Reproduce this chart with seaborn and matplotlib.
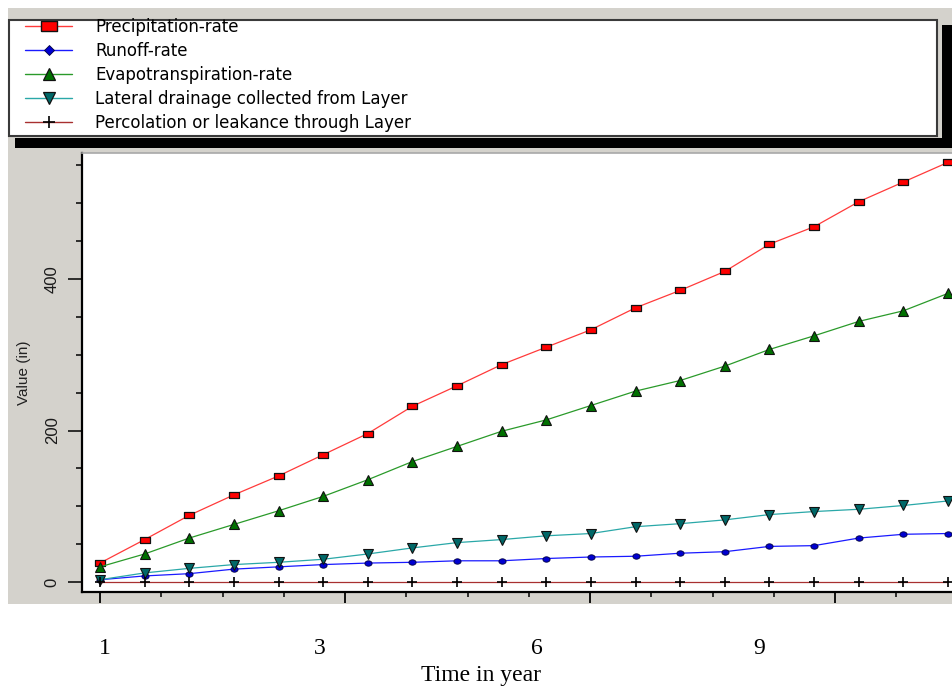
import numpy as np
import pandas as pd
import matplotlib
matplotlib.use("Agg")
import matplotlib.pyplot as plt
import seaborn as sns
from matplotlib.patches import Rectangle
from matplotlib.lines import Line2D

# ---------------- data ----------------
period = list(range(1, 21))
precipitation = [25, 56, 88, 115, 140, 168, 196, 232, 259, 287,
                 310, 333, 362, 385, 410, 446, 469, 502, 528, 554]
runoff = [3, 8, 11, 17, 20, 23, 25, 26, 28, 28,
          31, 33, 34, 38, 40, 47, 48, 58, 63, 64]
evapotranspiration = [20, 37, 58, 76, 94, 113, 135, 159, 179, 199,
                      214, 233, 252, 266, 285, 307, 325, 344, 358, 381]
lateral_drainage = [3, 12, 18, 23, 26, 30, 37, 45, 52, 56,
                    61, 64, 73, 77, 82, 89, 93, 96, 101, 107]
percolation = [0] * 20

series_names = ["Precipitation-rate", "Runoff-rate", "Evapotranspiration-rate",
                "Lateral drainage collected from Layer",
                "Percolation or leakance through Layer"]
time_labels = ["1", "3", "6", "9"]
y_tick_values = [0, 200, 400]
x_label = "Time in year"
y_label = "Value (in)"

# ---------------- style ----------------
sns.set_theme(style="ticks")
plt.rcParams["font.family"] = ["Liberation Sans", "DejaVu Sans"]
plt.rcParams["text.color"] = "black"

W, H = 952, 688
fig = plt.figure(figsize=(W / 100, H / 100), dpi=100)
fig.patch.set_facecolor("white")

def fx(px):
    return px / W

def fy(py):
    return 1 - py / H

def frect(x0, y0, x1, y1, **kw):
    r = Rectangle((fx(x0), fy(y1)), fx(x1) - fx(x0), fy(y0) - fy(y1),
                  transform=fig.transFigure, **kw)
    fig.patches.append(r)
    return r

GREY = "#d4d2cc"
frect(8, 8, 970, 604, facecolor=GREY, edgecolor="none", zorder=-4)
# legend panel with black shadow bar
frect(15, 25, 970, 148, facecolor="black", edgecolor="none", zorder=-3)
frect(9, 20, 942, 138, facecolor=GREY, edgecolor="none", zorder=-2)
frect(9, 20, 937, 136, facecolor="white", edgecolor="#3a3a3a", linewidth=1.5, zorder=-1)

# ---------------- axes ----------------
ax = fig.add_axes([fx(82), fy(592), fx(960) - fx(82), fy(153) - fy(592)])
ax.set_facecolor("white")
ax.set_zorder(1)

df = pd.DataFrame({"period": period,
                   series_names[0]: precipitation,
                   series_names[1]: runoff,
                   series_names[2]: evapotranspiration,
                   series_names[3]: lateral_drainage,
                   series_names[4]: percolation})

rect_marker = [(-1, -0.6), (1, -0.6), (1, 0.6), (-1, 0.6), (-1, -0.6)]
ellipse_marker = [(np.cos(t), 0.75 * np.sin(t)) for t in np.linspace(0, 2 * np.pi, 25)]

styles = {
    series_names[0]: dict(color="#ff3a3a", marker=rect_marker, markersize=7.5,
                          markerfacecolor="#ff0000", markeredgecolor="#111111",
                          markeredgewidth=0.9),
    series_names[1]: dict(color="#1a1aff", marker=ellipse_marker, markersize=5.2,
                          markerfacecolor="#0000d0", markeredgecolor="#000040",
                          markeredgewidth=0.6),
    series_names[2]: dict(color="#2a9a2a", marker="^", markersize=6.5,
                          markerfacecolor="#007000", markeredgecolor="#111111",
                          markeredgewidth=0.8),
    series_names[3]: dict(color="#2aa8a8", marker="v", markersize=6.5,
                          markerfacecolor="#006868", markeredgecolor="#111111",
                          markeredgewidth=0.8),
    series_names[4]: dict(color="#a83030", marker="+", markersize=7,
                          markeredgecolor="#000000", markeredgewidth=1.2),
}

for name in series_names:
    sns.lineplot(data=df, x="period", y=name, ax=ax, linewidth=0.9,
                 legend=False, **styles[name])

ax.set_xlim(1 + (82 - 100) / 44.63, 1 + (960 - 100) / 44.63)
ax.set_ylim((582 - 592) / 0.7575, (582 - 153) / 0.7575)

ax.set_xticks(np.arange(1, 20.3, 5.49))
ax.set_xticks(np.arange(1, 20.3, 1.3725), minor=True)
ax.set_yticks(y_tick_values)
ax.set_yticklabels([str(v) for v in y_tick_values], rotation=90, va="center",
                   fontsize=12, color="#1a1a1a")
ax.set_yticks(np.arange(0, 560, 50), minor=True)
ax.tick_params(axis="x", which="major", direction="out", length=8, width=1.3,
               color="black", labelbottom=False)
ax.tick_params(axis="x", which="minor", direction="out", length=3.8, width=1.1,
               color="black")
ax.tick_params(axis="y", which="major", direction="out", length=10, width=1.1,
               color="black", pad=6)
ax.tick_params(axis="y", which="minor", direction="out", length=4.3, width=1.1,
               color="black")
ax.set_xlabel("")
ax.set_ylabel(y_label, fontsize=11, color="#222222")
ax.yaxis.set_label_coords((31 - 82) / (960 - 82), 0.5)

for side in ["left", "bottom"]:
    ax.spines[side].set_color("black")
    ax.spines[side].set_linewidth(1.6)
ax.spines["top"].set_color("#a8a8a8")
ax.spines["top"].set_linewidth(1.2)
ax.spines["right"].set_visible(False)

# ---------------- legend ----------------
leg_markers = [
    dict(marker=rect_marker, markersize=12, markerfacecolor="#ff0000",
         markeredgecolor="#111111", markeredgewidth=1.0),
    dict(marker="D", markersize=5.5, markerfacecolor="#0000d0",
         markeredgecolor="#000040", markeredgewidth=0.6),
    dict(marker="^", markersize=8.5, markerfacecolor="#007000",
         markeredgecolor="#111111", markeredgewidth=0.9),
    dict(marker="v", markersize=8.5, markerfacecolor="#006868",
         markeredgecolor="#111111", markeredgewidth=0.9),
    dict(marker="+", markersize=9, markeredgecolor="#000000",
         markeredgewidth=1.2),
]
handles = []
for name, lm in zip(series_names, leg_markers):
    handles.append(Line2D([], [], color=styles[name]["color"], linewidth=1.0, **lm))

leg = fig.legend(handles, series_names, loc="upper left",
                 bbox_to_anchor=(fx(25), fy(18)), bbox_transform=fig.transFigure,
                 frameon=False, borderpad=0, borderaxespad=0,
                 handlelength=2.82, handletextpad=1.38, labelspacing=0.36,
                 prop={"family": "DejaVu Sans", "size": 12})
for t in leg.get_texts():
    t.set_color("black")

# ---------------- time labels ----------------
time_label_pos = [105, 320, 537, 759]
for lab, px in zip(time_labels, time_label_pos):
    fig.text(fx(px), fy(654), lab, ha="center", va="baseline",
             family="Liberation Serif", fontsize=17, color="black")
fig.text(fx(481), fy(681), x_label, ha="center", va="baseline",
         family="Liberation Serif", fontsize=17, color="black")

fig.savefig("out.png", dpi=100)
